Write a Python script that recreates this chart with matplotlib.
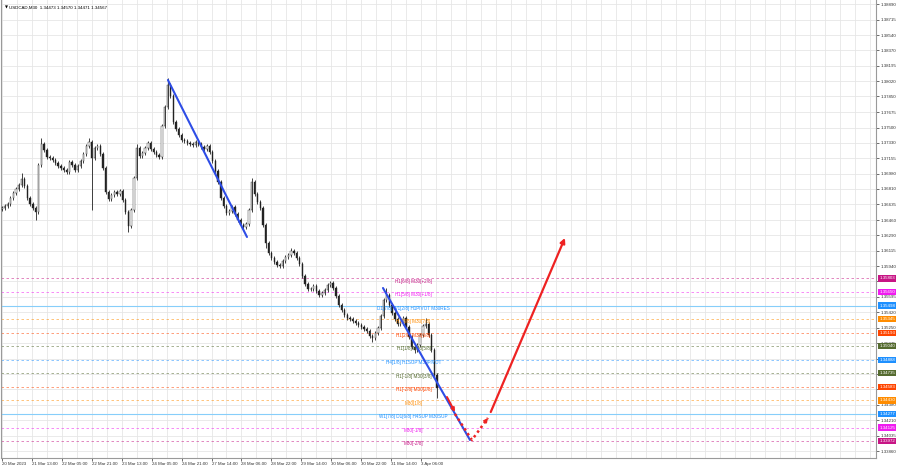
import matplotlib
matplotlib.use('Agg')
import matplotlib.pyplot as plt
from matplotlib.transforms import blended_transform_factory

# ---------------- data ----------------
title_text = "USDCAD,M30  1.34473 1.34570 1.34471 1.34567"

bars_per_candle = 3          # each drawn candle spans 3 M30 bars
first_open = 1.36580
closes = [
    1.36595, 1.36618, 1.36640, 1.36708, 1.36764, 1.36809, 1.36854, 1.36921, 1.36843, 1.36708,
    1.36640, 1.36595, 1.36550, 1.37079, 1.37315, 1.37248, 1.37169, 1.37158, 1.37135, 1.37101,
    1.37068, 1.37045, 1.37023, 1.37000, 1.37113, 1.37079, 1.37023, 1.37068, 1.37124, 1.37203,
    1.37293, 1.37338, 1.37158, 1.37270, 1.37293, 1.37203, 1.37045, 1.36775, 1.36696, 1.36741,
    1.36775, 1.36753, 1.36786, 1.36685, 1.36550, 1.36393, 1.36573, 1.36933, 1.37270, 1.37180,
    1.37214, 1.37270, 1.37326, 1.37259, 1.37225, 1.37191, 1.37169, 1.37518, 1.37731, 1.37979,
    1.37855, 1.37563, 1.37484, 1.37416, 1.37360, 1.37349, 1.37326, 1.37315, 1.37304, 1.37338,
    1.37315, 1.37281, 1.37259, 1.37293, 1.37225, 1.37124, 1.37011, 1.36888, 1.36708, 1.36618,
    1.36539, 1.36561, 1.36606, 1.36528, 1.36460, 1.36404, 1.36381, 1.36415, 1.36573, 1.36888,
    1.36753, 1.36663, 1.36595, 1.36404, 1.36201, 1.36089, 1.36033, 1.35988, 1.35954, 1.35943,
    1.35999, 1.36044, 1.36066, 1.36111, 1.36089, 1.36033, 1.35965, 1.35830, 1.35740, 1.35684,
    1.35684, 1.35718, 1.35661, 1.35616, 1.35639, 1.35673, 1.35729, 1.35751, 1.35695, 1.35605,
    1.35504, 1.35448, 1.35391, 1.35358, 1.35346, 1.35324, 1.35301, 1.35279, 1.35256, 1.35234,
    1.35211, 1.35155, 1.35133, 1.35189, 1.35245, 1.35380, 1.35560, 1.35616, 1.35504, 1.35414,
    1.35346, 1.35290, 1.35301, 1.35358, 1.35256, 1.35144, 1.35031, 1.34998, 1.35054, 1.35166,
    1.35268, 1.35290, 1.35166, 1.34998, 1.34716, 1.34570,
]
spike_high = {7: 1.36990, 14: 1.37383, 31: 1.37383, 48: 1.37320, 59: 1.38058,
              89: 1.36933, 103: 1.36150, 137: 1.35695, 151: 1.35358}
spike_low = {12: 1.36460, 32: 1.36573, 45: 1.36325, 94: 1.36150, 132: 1.35090,
             147: 1.34960, 155: 1.34458}
wick = 0.00024

xtick_bars = [0, 32, 64, 96, 128, 160, 192, 224, 256, 288, 320, 352, 384, 416, 448]
xtick_labels = ["20 Mar 2023", "21 Mar 13:00", "22 Mar 05:00", "22 Mar 21:00", "23 Mar 13:00",
                "24 Mar 05:00", "24 Mar 21:00", "27 Mar 14:00", "28 Mar 06:00", "28 Mar 22:00",
                "29 Mar 14:00", "30 Mar 06:00", "30 Mar 22:00", "31 Mar 14:00", "3 Apr 06:00"]

ytick_values = [1.38890, 1.38715, 1.38540, 1.38370, 1.38195, 1.38020, 1.37850, 1.37675,
                1.37500, 1.37330, 1.37155, 1.36980, 1.36810, 1.36635, 1.36460, 1.36290,
                1.36115, 1.35940, 1.35770, 1.35595, 1.35420, 1.35250, 1.35075, 1.34900,
                1.34730, 1.34555, 1.34380, 1.34210, 1.34035, 1.33860]
ytick_hidden = [1.35770, 1.34900, 1.34730, 1.34555]   # covered by level boxes in the reference

levels = [1.35803, 1.35650, 1.35498, 1.35345, 1.35193, 1.35040, 1.34888,
          1.34735, 1.34583, 1.34430, 1.34277, 1.34125, 1.33972]
level_names = ["H1[6/8] M30[+2/8]", "H1[5/8] M30[+1/8]", "D1[7/8] W1[2/8] H1PIVOT M30RES",
               "H1[3/8] M30[7/8]", "H1[2/8] M30[6/8]", "H1[1/8] M30[5/8]",
               "H4[1/8] H1SUP M30PIVOT", "H1[-1/8] M30[3/8]", "H1[-2/8] M30[2/8]",
               "M30[1/8]", "W1[7/8] D1[6/8] H4SUP M30SUP", "M30[-1/8]", "M30[-2/8]"]
level_colors = ['#c71585', '#f01cf0', '#1e90ff', '#ff8c00', '#ff4500', '#556b2f', '#1e90ff',
                '#556b2f', '#ff4500', '#ff8c00', '#1e90ff', '#f01cf0', '#c71585']
level_solid = [False, False, True, False, False, False, False,
               False, False, False, True, False, False]
label_bar = 440

trend1_bars = [177.4, 261.9]
trend1_prices = [1.38035, 1.36269]
trend2_bars = [407.3, 500.3]
trend2_prices = [1.35695, 1.33985]

arrow1_bars = [475.7, 484.2]
arrow1_prices = [1.34469, 1.34300]
vdot_bars = [484.2, 502.4, 519.5]
vdot_prices = [1.34278, 1.33985, 1.34233]
arrow2_bars = [522.5, 601.8]
arrow2_prices = [1.34300, 1.36258]

# ---------------- plot ----------------
FONT = 'Liberation Sans'
plt.rcParams['font.family'] = [FONT, 'DejaVu Sans']

fig = plt.figure(figsize=(9, 4.68), dpi=100)
ax = fig.add_axes([0.0011, 0.02137, 0.9722, 0.9786])
ax.set_xlim(-1.07, 934.3)
ax.set_ylim(1.337825, 1.38935)

# candles
opens = [first_open] + closes[:-1]
xs = [i * bars_per_candle for i in range(len(closes))]
ink = '#222222'
for i, (x, o, c) in enumerate(zip(xs, opens, closes)):
    hi = spike_high.get(i, max(o, c) + wick)
    lo = spike_low.get(i, min(o, c) - wick)
    ax.vlines(x, lo, hi, color=ink, lw=0.6, zorder=4)
    bottom = min(o, c)
    h = max(abs(c - o), 0.00003)
    if c >= o:
        ax.bar(x, h, bottom=bottom, width=1.4, color='white', edgecolor=ink,
               linewidth=0.3, zorder=5)
    else:
        ax.bar(x, h, bottom=bottom, width=1.4, color=ink, edgecolor=ink,
               linewidth=0.3, zorder=5)

# level lines and labels
bt = blended_transform_factory(ax.transAxes, ax.transData)
for lv, name, col, solid in zip(levels, level_names, level_colors, level_solid):
    if solid:
        ax.axhline(lv, color='#87cefa', lw=0.8, zorder=2)
    else:
        ax.axhline(lv, color=col, lw=0.6, ls=(0, (3, 3)), alpha=0.6, zorder=2)
    ax.text(label_bar, lv - 0.00002, name, fontsize=3.3, color=col, ha='center', va='top',
            zorder=6)
    ax.text(1.0 + 3.2 / 875, lv, f"{lv:.5f}", transform=bt, fontsize=3.2, color='white',
            ha='left', va='center', zorder=20, clip_on=False,
            bbox=dict(boxstyle='square,pad=0.25', fc=col, ec='none'))

# trend lines
blue = '#2e4de6'
ax.plot(trend1_bars, trend1_prices, color=blue, lw=1.5, zorder=7, solid_capstyle='round')
ax.plot(trend2_bars, trend2_prices, color=blue, lw=1.5, zorder=7, solid_capstyle='round')

# red projection arrows
red = '#ee2222'
ax.annotate('', xy=(arrow1_bars[1], arrow1_prices[1]), xytext=(arrow1_bars[0], arrow1_prices[0]),
            arrowprops=dict(arrowstyle='-|>', color=red, lw=1.4, mutation_scale=5,
                            shrinkA=0, shrinkB=0), zorder=8)
ax.plot(vdot_bars, vdot_prices, color=red, lw=1.8, ls=(0, (1, 1.3)), zorder=8)
ax.annotate('', xy=(vdot_bars[2], vdot_prices[2]),
            xytext=(vdot_bars[2] - 3.0, vdot_prices[2] - 0.00042),
            arrowprops=dict(arrowstyle='-|>', color=red, lw=1.0, mutation_scale=6,
                            shrinkA=0, shrinkB=0), zorder=8)
ax.annotate('', xy=(arrow2_bars[1], arrow2_prices[1]), xytext=(arrow2_bars[0], arrow2_prices[0]),
            arrowprops=dict(arrowstyle='-|>', color=red, lw=1.6, mutation_scale=7,
                            shrinkA=0, shrinkB=0), zorder=8)

# axes styling
ax.set_yticks(ytick_values)
ax.set_yticklabels(["" if v in ytick_hidden else f"{v:.5f}" for v in ytick_values])
ax.yaxis.tick_right()
ax.set_xticks(xtick_bars)
ax.set_xticklabels(xtick_labels)
ax.set_xticks([b + 16 for b in xtick_bars] + [b for b in range(480, 934, 16)], minor=True)
for lab in ax.get_xticklabels():
    lab.set_ha('left')
ax.tick_params(axis='y', which='major', length=2, width=0.5, pad=1.5, labelsize=3.2,
               colors='#333333')
ax.tick_params(axis='x', which='major', length=2, width=0.5, pad=1.0, labelsize=3.2,
               colors='#333333')
ax.tick_params(axis='x', which='minor', length=0)
ax.grid(True, which='both', color='#e6e6e6', lw=0.6, zorder=0)
ax.set_axisbelow(True)
for s in ['left', 'right', 'bottom']:
    ax.spines[s].set_color('#9a9a9a')
    ax.spines[s].set_linewidth(0.8)
ax.spines['top'].set_visible(False)

ax.text(0.004, 0.988, '\u25bc', transform=ax.transAxes, fontsize=2.8, color='black',
        ha='left', va='top', family='DejaVu Sans')
ax.text(0.009, 0.989, title_text, transform=ax.transAxes, fontsize=3.2, color='black',
        ha='left', va='top')

fig.savefig('out.png', dpi=100)
